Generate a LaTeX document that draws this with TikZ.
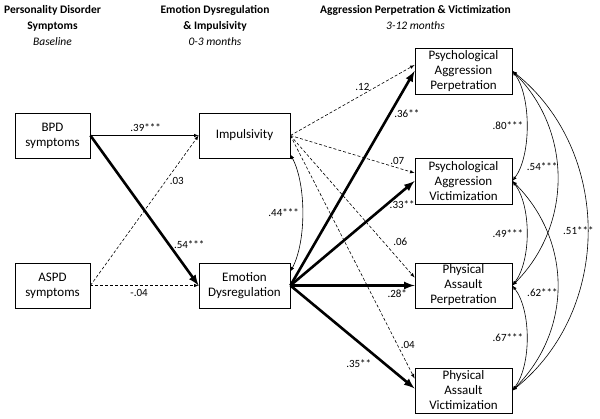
\documentclass[tikz,border=0pt]{standalone}
\usepackage{fontspec}
\setmainfont{Carlito}
\begin{document}
\begin{tikzpicture}[x=1pt,y=-1pt,
        box/.style={draw,line width=0.8pt,align=center,inner sep=0pt,font=\fontsize{13}{15}\selectfont},
        head/.style={align=center,font=\fontsize{11.5}{16}\selectfont\bfseries},
        lbl/.style={font=\fontsize{11}{13}\selectfont},
        thinarr/.style={-latex,line width=0.6pt},
        dsh/.style={-latex,line width=0.6pt,dash pattern=on 3pt off 2pt},
        heavy/.style={-latex,line width=2.6pt},
        cor/.style={latex-latex,line width=0.6pt}]
        \useasboundingbox (0,0) rectangle (600,419);
        \node[head] (h1) at (52.5,26) {Personality Disorder\\Symptoms\\\mdseries\itshape Baseline};
        \node[head] (h2) at (215,26) {Emotion Dysregulation\\\& Impulsivity\\\mdseries\itshape 0-3 months};
        \node[head] (h3) at (415.5,18) {Aggression Perpetration \& Victimization\\\mdseries\itshape 3-12 months};
        \node[box,minimum width=75pt,minimum height=45pt] (bpd) at (52.5,135.5) {BPD\\symptoms};
        \node[box,minimum width=75pt,minimum height=45pt] (aspd) at (52.5,285.5) {ASPD\\symptoms};
        \node[box,minimum width=91pt,minimum height=45pt] (imp) at (244.5,135.5) {Impulsivity};
        \node[box,minimum width=91pt,minimum height=45pt] (emo) at (244.5,285.5) {Emotion\\Dysregulation};
        \node[box,minimum width=97pt,minimum height=46pt] (pap) at (463.5,71) {Psychological\\Aggression\\Perpetration};
        \node[box,minimum width=97pt,minimum height=46pt] (pav) at (463.5,181) {Psychological\\Aggression\\Victimization};
        \node[box,minimum width=97pt,minimum height=45pt] (pha) at (463.5,285.5) {Physical\\Assault\\Perpetration};
        \node[box,minimum width=97pt,minimum height=45pt] (phv) at (463.5,390.5) {Physical\\Assault\\Victimization};
        \draw[thinarr] (bpd.east) -- (imp.west) node[lbl,pos=.51,above] {.39***};
        \draw[dsh] (aspd.east) -- (imp.west) node[lbl,pos=.7,right] {.03};
        \draw[dsh] (aspd.east) -- (emo.west) node[lbl,pos=.45,below] {-.04};
        \draw[heavy] (bpd.east) -- (emo.west) node[lbl,pos=.73,right] {.54***};
        \draw[cor] ([yshift=4pt]imp.south east) .. controls +(16,30) and +(16,-30) .. ([yshift=-9pt]emo.north east) node[lbl,pos=.5,left] {.44***};
        \draw[dsh] (imp.east) -- ([yshift=6pt]pap.west) node[lbl,pos=.58,above] {.12};
        \draw[dsh] (imp.east) -- ([yshift=8pt]pav.west) node[lbl,pos=.86,above] {.07};
        \draw[dsh] (imp.east) -- ([yshift=8pt]pha.west) node[lbl,pos=.8,above right] {.06};
        \draw[dsh] (imp.east) -- ([yshift=12pt]phv.west) node[lbl,pos=.86,right] {.04};
        \draw[heavy] (emo.east) -- (pap.west) node[lbl,pos=.8,right] {.36**};
        \draw[heavy] (emo.east) -- (pav.west) node[lbl,pos=.9,below=5pt] {.33**};
        \draw[heavy] (emo.east) -- (pha.west) node[lbl,pos=.86,below] {.28*};
        \draw[heavy] (emo.east) -- ([yshift=2pt]phv.west) node[lbl,pos=.55,below=13pt] {.35**};
        \draw[cor] (pap.east) .. controls +(19,25) and +(19,-25) .. (pav.east) node[lbl,pos=.5,left] {.80***};
        \draw[cor] (pav.east) .. controls +(19,25) and +(19,-25) .. (pha.east) node[lbl,pos=.5,left] {.49***};
        \draw[cor] (pha.east) .. controls +(19,25) and +(19,-25) .. (phv.east) node[lbl,pos=.5,left] {.67***};
        \draw[cor] (pap.east) .. controls +(60,60) and +(60,-60) .. (pha.east) node[lbl,pos=.45,left=-4pt] {.54***};
        \draw[cor] (pav.east) .. controls +(60,60) and +(60,-60) .. (phv.east) node[lbl,pos=.53,left=-4pt] {.62***};
        \draw[cor] (pap.east) .. controls +(100,80) and +(100,-80) .. (phv.east) node[lbl,pos=.5,xshift=-9pt] {.51***};
    \end{tikzpicture}
\end{document}
